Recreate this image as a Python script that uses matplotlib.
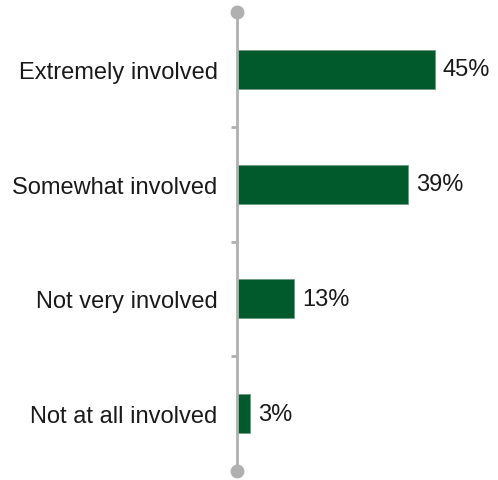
import matplotlib
matplotlib.use("Agg")
import matplotlib.pyplot as plt

plt.rcParams['font.family'] = ['Liberation Sans', 'DejaVu Sans']

categories = ["Extremely involved", "Somewhat involved", "Not very involved", "Not at all involved"]
values = [45, 39, 13, 3]
labels = ["45%", "39%", "13%", "3%"]

bar_color = "#005a2b"
axis_color = "#b0b0b0"

W, H = 498, 481
fig = plt.figure(figsize=(W / 100, H / 100), dpi=100)
x0, x1 = 237, 492
y_top, y_bot = 13, 472
ax = fig.add_axes([x0 / W, (H - y_bot) / H, (x1 - x0) / W, (y_bot - y_top) / H])

ypos = list(range(len(categories)))
ax.barh(ypos, values, height=0.34, color=bar_color, edgecolor="#6f9a80", linewidth=0.6, zorder=2)
for y, v, lab in zip(ypos, values, labels):
    ax.text(v + 1.8, y, lab, va="center", ha="left", fontsize=17, color="#1a1a1a")

ax.set_xlim(0, 58)
ax.set_ylim(len(categories) - 0.5, -0.5)

for s in ["top", "right", "bottom"]:
    ax.spines[s].set_visible(False)
ax.spines["left"].set_color(axis_color)
ax.spines["left"].set_linewidth(2)
ax.spines["left"].set_zorder(3)

ax.set_xticks([])
ax.set_yticks(ypos)
ax.set_yticklabels(categories, fontsize=17, color="#1a1a1a")
ax.tick_params(axis="y", length=0, pad=14)
# small separator ticks between categories
ax.set_yticks([i + 0.5 for i in ypos[:-1]], minor=True)
ax.tick_params(axis="y", which="minor", length=4.5, width=2, color=axis_color)

# round caps at both ends of the axis line
ax.plot([0, 0], [-0.5, len(categories) - 0.5], linestyle="none", marker="o",
        markersize=9, color=axis_color, clip_on=False, zorder=4)

fig.savefig("out.png", dpi=100)
